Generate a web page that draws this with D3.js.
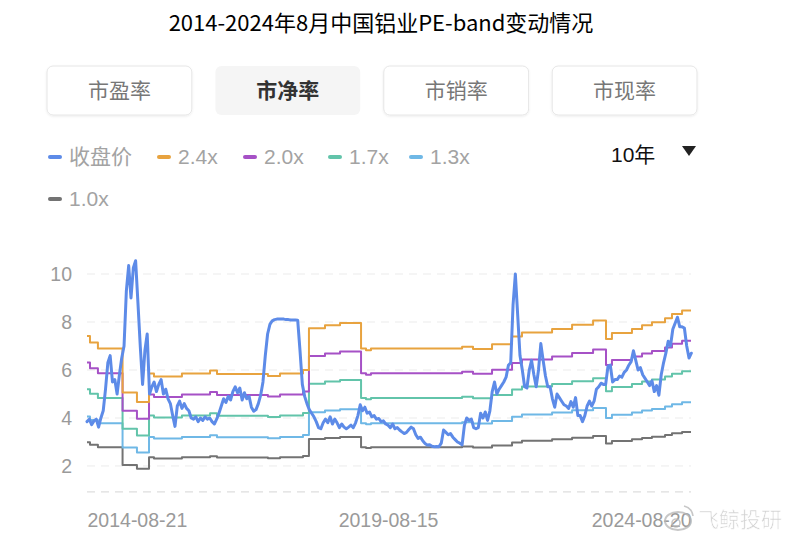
<!DOCTYPE html>
<html><head><meta charset="utf-8">
<script src="https://cdn.jsdelivr.net/npm/d3@7"></script>
<style>body{margin:0;background:#fff}svg{display:block}</style>
</head><body><svg id="c" width="788" height="536"></svg>
<script>
// ---------- data ----------
const titleText = "2014-2024年8月中国铝业PE-band变动情况";
const tabLabels = ["市盈率", "市净率", "市销率", "市现率"];
const activeTab = "市净率";
const periodLabel = "10年";
const seriesNames = ["收盘价", "2.4x", "2.0x", "1.7x", "1.3x", "1.0x"];
const seriesColors = ["#5d8be8", "#e8a33f", "#a651c6", "#62c4aa", "#6fb8e6", "#737373"];
const bandMultiples = [2.48, 2.11, 1.74, 1.36, 1.0];
const yTicks = [2, 4, 6, 8, 10];
const xTickLabels = ["2014-08-21", "2019-08-15", "2024-08-20"];
const startDate = "2014-08-21";
const endDate = "2024-08-20";
const priceStepDays = 14;
const priceValues = [
 3.85,3.95,3.72,3.88,3.95,3.62,4.0,4.3,5.2,6.3,
 6.6,5.5,5.6,5.0,5.8,6.5,7.0,9.3,10.35,9.0,
 10.25,10.55,8.8,7.0,5.4,6.8,7.5,5.0,5.3,5.5,
 5.1,5.4,5.6,5.0,5.2,4.8,4.6,4.1,3.65,4.5,
 4.7,4.4,4.6,4.4,4.3,4.0,3.95,4.05,3.85,4.0,
 3.9,4.05,3.95,4.0,3.85,3.75,3.95,4.2,4.5,4.8,
 4.65,4.9,4.75,5.1,5.3,5.05,5.25,4.75,5.05,4.8,
 4.9,4.45,4.28,4.35,4.6,4.95,5.5,6.6,7.5,7.9,
 8.05,8.1,8.12,8.12,8.12,8.12,8.1,8.1,8.08,8.08,
 8.08,8.07,6.8,5.4,4.9,4.6,4.35,4.2,4.05,3.85,
 3.6,3.55,3.8,3.95,3.8,4.05,3.75,3.95,3.8,3.6,
 3.75,3.62,3.55,3.62,3.7,3.6,3.8,4.1,4.55,4.3,
 4.45,4.2,4.25,4.05,4.1,3.95,3.98,3.85,3.88,3.75,
 3.7,3.6,3.75,3.55,3.6,3.5,3.42,3.35,3.4,3.52,
 3.62,3.55,3.3,3.15,3.2,3.05,2.94,2.87,2.88,2.82,
 2.8,2.81,2.8,2.95,3.5,3.4,3.3,3.35,3.2,3.1,
 3.0,2.95,2.88,3.7,4.0,3.9,3.95,3.6,3.55,3.6,
 4.2,4.0,4.25,3.9,4.3,5.1,5.5,5.0,5.2,5.35,
 5.5,5.7,6.2,6.3,8.7,10.0,8.3,6.6,6.0,5.3,
 5.25,6.0,6.4,5.8,5.3,6.0,7.1,6.4,5.75,5.3,
 5.3,4.8,4.45,5.0,4.85,4.7,4.55,4.5,4.4,4.68,
 4.45,4.85,4.1,4.1,3.85,4.1,4.5,4.7,4.5,4.7,
 5.2,5.3,5.45,5.4,5.4,6.15,6.2,5.5,5.6,5.6,
 5.75,5.7,5.9,6.0,6.2,6.35,6.8,6.4,6.0,6.1,
 5.8,5.65,5.5,5.35,5.55,5.1,5.35,4.95,5.8,6.3,
 6.7,7.2,7.0,7.7,7.95,8.2,7.8,7.8,7.75,7.0,
 6.5,6.7
];
// book value per share (the 1.0x band), step changes
const bookDates = [
 "2014-08-21","2014-09-08","2014-10-26","2015-03-24","2015-06-19","2015-08-31",
 "2015-09-30","2016-03-17","2016-09-03","2016-10-15","2017-08-19","2017-10-31",
 "2018-03-19","2018-04-24","2018-07-30","2018-10-29","2019-03-05","2019-04-04",
 "2019-05-04","2020-11-05","2021-01-10","2021-05-05","2021-09-03","2021-11-02",
 "2022-05-03","2022-09-01","2023-01-06","2023-03-25","2023-04-30","2023-08-29",
 "2023-10-29","2023-12-28","2024-03-16","2024-04-27","2024-06-27"
];
const bookValues = [
 2.99,2.88,2.78,2.04,1.88,2.36,
 2.31,2.36,2.41,2.35,2.32,2.36,
 2.42,3.12,3.17,3.21,2.78,2.75,
 2.78,2.81,2.77,2.85,2.98,3.05,
 3.11,3.18,3.25,2.94,3.04,3.11,
 3.17,3.22,3.29,3.36,3.42
];

// ---------- drawing ----------
const parse = d3.utcParse("%Y-%m-%d");
const svg = d3.select("#c");
const FONT = "'Liberation Sans', 'Noto Sans CJK SC', sans-serif";

svg.append("text").attr("x", 381).attr("y", 31).attr("text-anchor", "middle")
  .attr("font-family", "'Liberation Sans Narrow', 'Noto Sans CJK SC', sans-serif")
  .attr("font-size", 22).attr("fill", "#000").text(titleText);

// tabs
const defs = svg.append("defs");
const f = defs.append("filter").attr("id", "sh").attr("x", "-10%").attr("y", "-20%").attr("width", "120%").attr("height", "150%");
f.append("feDropShadow").attr("dx", 0).attr("dy", 1).attr("stdDeviation", 1.2).attr("flood-color", "#000").attr("flood-opacity", 0.08);
const tabX = d3.scaleBand().domain(tabLabels).range([47, 697]).paddingInner(0.14);
const tabs = svg.append("g").selectAll("g").data(tabLabels).join("g")
  .attr("transform", d => `translate(${tabX(d)},66)`);
tabs.append("rect").attr("width", tabX.bandwidth()).attr("height", 49).attr("rx", 6)
  .attr("fill", d => d === activeTab ? "#f5f5f5" : "#fff")
  .attr("stroke", d => d === activeTab ? "none" : "#e6e6e6")
  .attr("filter", d => d === activeTab ? null : "url(#sh)");
tabs.append("text").attr("x", tabX.bandwidth() / 2).attr("y", 25).attr("dy", "0.35em")
  .attr("text-anchor", "middle").attr("font-family", FONT).attr("font-size", 21)
  .attr("font-weight", d => d === activeTab ? 700 : 400)
  .attr("fill", d => d === activeTab ? "#333" : "#777").text(d => d);

// legend
const legendPos = [[48,157],[157,157],[243,157],[328,157],[409,157],[48,199]];
const lg = svg.append("g").selectAll("g").data(seriesNames).join("g")
  .attr("transform", (d, i) => `translate(${legendPos[i][0]},${legendPos[i][1]})`);
lg.append("rect").attr("x", 0).attr("y", -2).attr("width", 14).attr("height", 4).attr("rx", 2)
  .attr("fill", (d, i) => seriesColors[i]);
lg.append("text").attr("x", 21).attr("y", 0).attr("dy", "0.35em").attr("font-family", FONT)
  .attr("font-size", 21).attr("fill", "#a3a3a3").text(d => d);

svg.append("text").attr("x", 611).attr("y", 155).attr("dy", "0.35em").attr("font-family", FONT)
  .attr("font-size", 21).attr("font-weight", 400).attr("fill", "#111").text(periodLabel);
svg.append("path").attr("d", "M682,146 L696,146 L689,156 Z").attr("fill", "#222");

// scales
const x = d3.scaleUtc().domain([parse(startDate), parse(endDate)]).range([87, 691]);
const y = d3.scaleLinear().domain([0.92, 10.6]).range([491.9, 259.6]);

// grid
const grid = svg.append("g");
grid.selectAll("line").data(yTicks).join("line")
  .attr("x1", 87).attr("x2", 691).attr("y1", d => y(d)).attr("y2", d => y(d))
  .attr("stroke", "#ebebeb").attr("stroke-width", 1).attr("stroke-dasharray", "8,6");
grid.append("line").attr("x1", 87).attr("x2", 691).attr("y1", y(0.92)).attr("y2", y(0.92))
  .attr("stroke", "#dedede").attr("stroke-width", 1.2).attr("stroke-dasharray", "8,6");

// y axis
const yAxis = svg.append("g").attr("transform", "translate(87,0)")
  .call(d3.axisLeft(y).tickValues(yTicks).tickSize(0).tickPadding(15).tickFormat(d3.format("d")));
yAxis.select(".domain").remove();
yAxis.selectAll("text").attr("font-family", FONT).attr("font-size", 19.5).attr("fill", "#9a9a9a");

// x axis
const xAxis = svg.append("g").attr("transform", `translate(0,${y(0.92)})`)
  .call(d3.axisBottom(x).tickValues(xTickLabels.map(parse)).tickSize(0).tickPadding(21)
    .tickFormat(d3.utcFormat("%Y-%m-%d")));
xAxis.select(".domain").remove();
xAxis.selectAll("text").attr("font-family", FONT).attr("font-size", 19.5).attr("fill", "#9a9a9a")
  .attr("text-anchor", (d, i) => i === 0 ? "start" : (i === xTickLabels.length - 1 ? "end" : "middle"));

// bands
const bandLine = d3.line().x(d => x(d.date)).y(d => y(d.v)).curve(d3.curveStepAfter);
const bandOrder = [4, 3, 2, 1, 0];
bandOrder.forEach(k => {
  const m = bandMultiples[k];
  const pts = bookDates.map((d, i) => ({date: parse(d), v: bookValues[i] * m}));
  pts.push({date: parse(endDate), v: bookValues[bookValues.length - 1] * m});
  svg.append("path").datum(pts).attr("d", bandLine).attr("fill", "none")
    .attr("stroke", seriesColors[k + 1]).attr("stroke-width", 2).attr("stroke-linejoin", "round");
});

// price
const price = priceValues.map((v, i) => ({date: d3.utcDay.offset(parse(startDate), i * priceStepDays), v}));
svg.append("path").datum(price)
  .attr("d", d3.line().x(d => x(d.date)).y(d => y(d.v)))
  .attr("fill", "none").attr("stroke", seriesColors[0]).attr("stroke-width", 3)
  .attr("stroke-linejoin", "round").attr("stroke-linecap", "round");

// watermark
const wm = svg.append("g").attr("opacity", 0.75);
wm.append("ellipse").attr("cx", 678).attr("cy", 521).attr("rx", 13).attr("ry", 9)
  .attr("fill", "none").attr("stroke", "#b5b5b5").attr("stroke-width", 2);
wm.append("circle").attr("cx", 676).attr("cy", 523).attr("r", 4).attr("fill", "none")
  .attr("stroke", "#b5b5b5").attr("stroke-width", 1.6);
wm.append("path").attr("d", "M684,506 q8,2 9,10").attr("fill", "none").attr("stroke", "#b5b5b5").attr("stroke-width", 1.6);
wm.append("text").attr("x", 698).attr("y", 527).attr("font-family", "'Noto Sans CJK SC', sans-serif")
  .attr("font-size", 21).attr("fill", "#c4c4c4").attr("stroke", "#fff").attr("stroke-width", 0.6)
  .text("飞鲸投研");
</script></body></html>
